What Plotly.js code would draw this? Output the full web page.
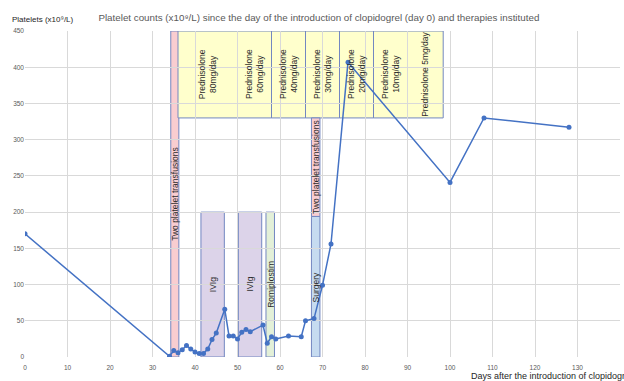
<!DOCTYPE html>
<html>
<head>
<meta charset="utf-8">
<script src="https://cdn.plot.ly/plotly-3.0.1.min.js"></script>
<style>html,body{margin:0;padding:0;background:#fff;}#chart{width:624px;height:381px;}</style>
</head>
<body>
<div id="chart"></div>
<script>
// Platelet counts
const days = [0,34,35,36,37,38,39,40,41,42,43,44,45,47,48,49,50,51,52,53,56,57,58,59,62,65,66,68,70,72,76,100,108,128];
const platelets = [170,1,9,6,10,16,11,7,5,5,11,24,33,66,29,29,25,34,38,35,44,19,28,25,29,28,50,53,99,156,407,241,330,317];

// Therapy boxes
const boxLabels = [
  "Two platelet transfusions",
  "Prednisolone<br>80mg/day","Prednisolone<br>60mg/day","Prednisolone<br>40mg/day","Prednisolone<br>30mg/day",
  "Prednisolone<br>20mg/day","Prednisolone<br>10mg/day","Prednisolone 5mg/day",
  "IVIg","IVIg","Romiplostim","Two platelet transfusions","Surgery"
];
const boxStart = [34.3, 36, 50, 58, 66, 74, 82, 90, 41.4, 50.2, 56.7, 67.4, 67.4];
const boxEnd   = [36.2, 50, 58, 66, 74, 82, 90, 98.4, 46.9, 55.7, 58.7, 69.4, 69.4];
const boxLow   = [0, 330, 330, 330, 330, 330, 330, 330, 0, 0, 0, 194, 0];
const boxHigh  = [450, 450, 450, 450, 450, 450, 450, 450, 200, 200, 200, 330, 194];
const boxFill  = ["#f9cdd0","#ffffcc","#ffffcc","#ffffcc","#ffffcc","#ffffcc","#ffffcc","#ffffcc",
                  "#dcd3e9","#dcd3e9","#e3f0d8","#f9cdd0","#c6dbf0"];

const xTicks = [0,10,20,30,40,50,60,70,80,90,100,110,120,130,140];
const yTicks = [0,50,100,150,200,250,300,350,400,450];

const shapes = boxLabels.map((_, i) => ({
  type: 'rect', xref: 'x', yref: 'y', layer: 'below',
  x0: boxStart[i], x1: boxEnd[i], y0: boxLow[i], y1: boxHigh[i],
  fillcolor: boxFill[i], line: {color: '#7387c1', width: 1}
}));

const annotations = boxLabels.map((t, i) => ({
  xref: 'x', yref: 'y', x: (boxStart[i] + boxEnd[i]) / 2, y: (boxLow[i] + boxHigh[i]) / 2,
  text: t, textangle: -90, showarrow: false,
  font: {family: 'Liberation Sans, Arial, sans-serif', size: 8.5, color: '#2b2b2b'}
}));

annotations.push({
  xref: 'paper', yref: 'paper', x: -0.025, y: 1.034, xanchor: 'left', yanchor: 'middle',
  text: 'Platelets (x10⁹/L)', showarrow: false,
  font: {family: 'Liberation Sans, Arial, sans-serif', size: 8, color: '#262626'}
});
annotations.push({
  xref: 'paper', yref: 'paper', x: 0.746, y: -0.057, xanchor: 'left', yanchor: 'middle',
  text: 'Days after the introduction of clopidogrel', showarrow: false,
  font: {family: 'Liberation Sans, Arial, sans-serif', size: 9, color: '#262626'}
});

const trace = {
  x: days, y: platelets, type: 'scatter', mode: 'lines+markers',
  line: {color: '#4472c4', width: 1.5},
  marker: {color: '#4472c4', size: 5},
  hoverinfo: 'skip'
};

const layout = {
  width: 624, height: 381,
  margin: {l: 25, r: 4, t: 31, b: 24},
  paper_bgcolor: '#ffffff', plot_bgcolor: '#ffffff',
  showlegend: false,
  title: {
    text: 'Platelet counts (x10⁹/L) since the day of the introduction of clopidogrel (day 0) and therapies instituted',
    xref: 'container', yref: 'container', x: 0.511, y: 0.955, xanchor: 'center', yanchor: 'middle',
    font: {family: 'Liberation Sans, Arial, sans-serif', size: 9.8, color: '#595959'}
  },
  xaxis: {
    range: [0, 140], tickvals: xTicks, ticktext: xTicks.map(String),
    showgrid: true, gridcolor: '#d9d9d9', gridwidth: 1, zeroline: false,
    showline: false, ticks: '', ticklabelstandoff: 5,
    tickfont: {family: 'Liberation Sans, Arial, sans-serif', size: 6.5, color: '#595959'}
  },
  yaxis: {
    range: [0, 450], tickvals: yTicks, ticktext: yTicks.map(String),
    showgrid: true, gridcolor: '#d9d9d9', gridwidth: 1, zeroline: false,
    showline: false, ticks: '',
    tickfont: {family: 'Liberation Sans, Arial, sans-serif', size: 6.5, color: '#595959'}
  },
  shapes: shapes,
  annotations: annotations
};

Plotly.newPlot('chart', [trace], layout, {displayModeBar: false, staticPlot: true});
</script>
</body>
</html>
